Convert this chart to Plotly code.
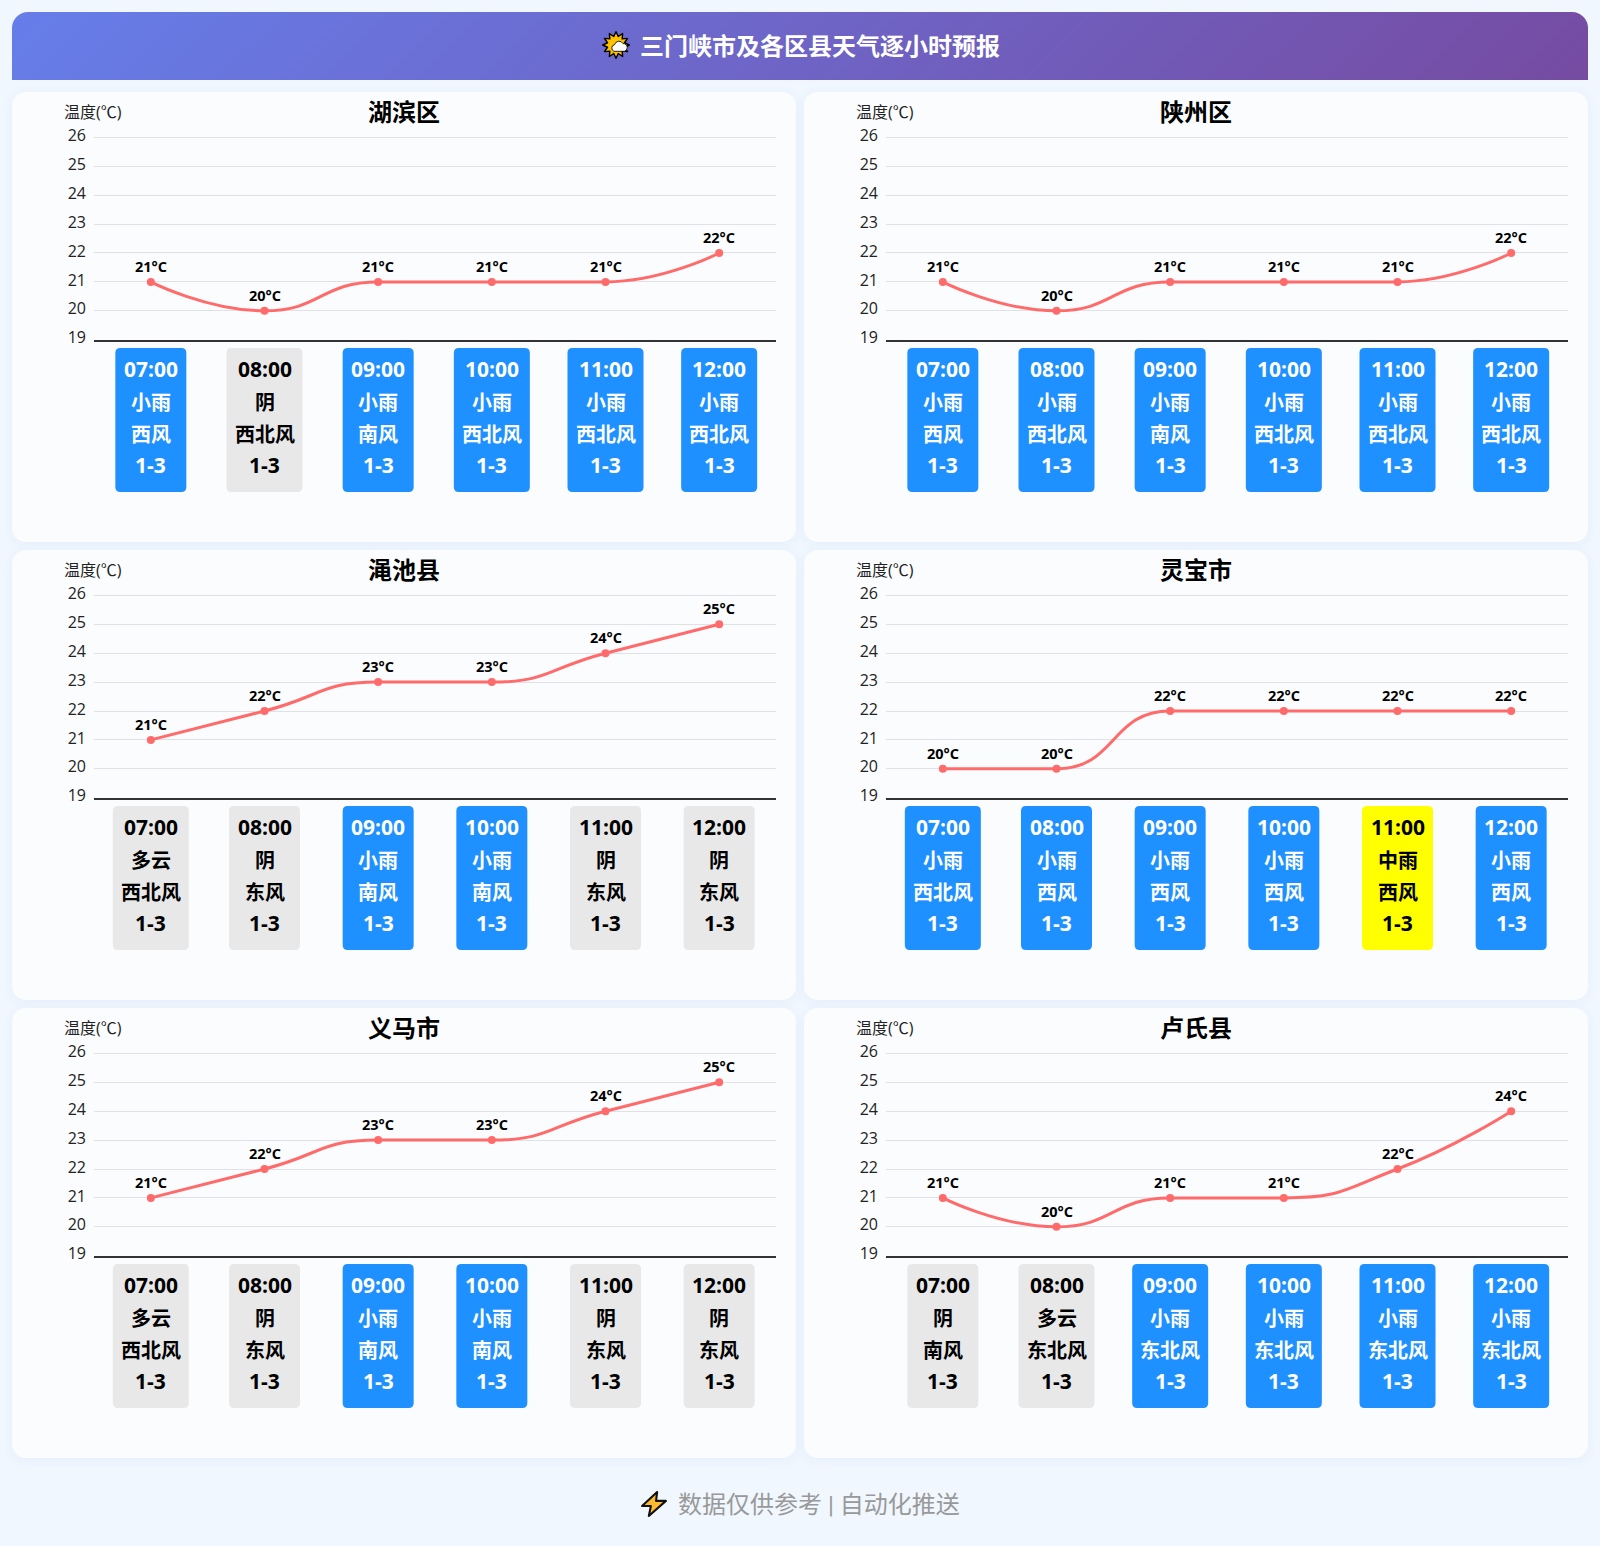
import base64, math
import plotly.graph_objects as go

W, H = 1600, 1546
FONT = "Open Sans, Noto Sans CJK SC, sans-serif"
FOOT = "Roboto, Noto Sans CJK SC, sans-serif"

hours = ["07:00", "08:00", "09:00", "10:00", "11:00", "12:00"]
city_names = ["湖滨区", "陕州区", "渑池县", "灵宝市", "义马市", "卢氏县"]

temps_hubin = [21, 20, 21, 21, 21, 22]
temps_shanzhou = [21, 20, 21, 21, 21, 22]
temps_mianchi = [21, 22, 23, 23, 24, 25]
temps_lingbao = [20, 20, 22, 22, 22, 22]
temps_yima = [21, 22, 23, 23, 24, 25]
temps_lushi = [21, 20, 21, 21, 22, 24]

sky_hubin = ["小雨", "阴", "小雨", "小雨", "小雨", "小雨"]
sky_shanzhou = ["小雨", "小雨", "小雨", "小雨", "小雨", "小雨"]
sky_mianchi = ["多云", "阴", "小雨", "小雨", "阴", "阴"]
sky_lingbao = ["小雨", "小雨", "小雨", "小雨", "中雨", "小雨"]
sky_yima = ["多云", "阴", "小雨", "小雨", "阴", "阴"]
sky_lushi = ["阴", "多云", "小雨", "小雨", "小雨", "小雨"]

wind_hubin = ["西风", "西北风", "南风", "西北风", "西北风", "西北风"]
wind_shanzhou = ["西风", "西北风", "南风", "西北风", "西北风", "西北风"]
wind_mianchi = ["西北风", "东风", "南风", "南风", "东风", "东风"]
wind_lingbao = ["西北风", "西风", "西风", "西风", "西风", "西风"]
wind_yima = ["西北风", "东风", "南风", "南风", "东风", "东风"]
wind_lushi = ["南风", "东北风", "东北风", "东北风", "东北风", "东北风"]

wind_force = "1-3"
y_ticks = [19, 20, 21, 22, 23, 24, 25, 26]

all_temps = [temps_hubin, temps_shanzhou, temps_mianchi, temps_lingbao, temps_yima, temps_lushi]
all_sky = [sky_hubin, sky_shanzhou, sky_mianchi, sky_lingbao, sky_yima, sky_lushi]
all_wind = [wind_hubin, wind_shanzhou, wind_mianchi, wind_lingbao, wind_yima, wind_lushi]

CARD_STYLE = {"小雨": ("#1e90ff", "#ffffff"), "中雨": ("#ffff00", "#000000"),
              "阴": ("#e8e8e8", "#000000"), "多云": ("#e8e8e8", "#000000")}

PLOT_L, PLOT_W = 94, 682
PLOT_B, UNIT = 339.7, 28.9
Y_TOP = 26.05


def uri(svg):
    return "data:image/svg+xml;base64," + base64.b64encode(svg.encode("utf-8")).decode()


panels = ""
for r in range(3):
    for c in range(2):
        panels += f'<rect x="{12+792*c}" y="{92+458*r}" width="784" height="450" rx="14" fill="#fbfcfe" filter="url(#s)"/>'
bg = f'''<svg xmlns="http://www.w3.org/2000/svg" width="{W}" height="{H}" viewBox="0 0 {W} {H}">
<defs>
<linearGradient id="g" gradientUnits="userSpaceOnUse" x1="{800-411}" y1="{46-411}" x2="{800+411}" y2="{46+411}">
<stop offset="0" stop-color="#667eea"/><stop offset="1" stop-color="#764ba2"/></linearGradient>
<filter id="s" x="-5%" y="-5%" width="110%" height="110%"><feDropShadow dx="0" dy="2" stdDeviation="4" flood-color="#5078b4" flood-opacity="0.08"/></filter>
</defs>
<rect width="{W}" height="{H}" fill="#f0f7ff"/>
<path d="M12 80 V28 a16 16 0 0 1 16 -16 H1572 a16 16 0 0 1 16 16 V80 Z" fill="url(#g)"/>
{panels}
</svg>'''

rays = " ".join(
    f"{20+(19 if i % 2 == 0 else 12.5)*math.cos(i*math.pi/12):.1f},{20+(19 if i % 2 == 0 else 12.5)*math.sin(i*math.pi/12):.1f}"
    for i in range(24))
sun = f'''<svg xmlns="http://www.w3.org/2000/svg" width="80" height="80" viewBox="0 0 40 40">
<defs><radialGradient id="r"><stop offset="0.45" stop-color="#ffc400"/><stop offset="1" stop-color="#ffb000"/></radialGradient></defs>
<polygon points="{rays}" fill="url(#r)" stroke="#000" stroke-width="2" stroke-linejoin="round"/>
<path d="M17 29 a5 5 0 0 1 1 -9.5 a6.5 6.5 0 0 1 12 -1.5 a5.5 5.5 0 0 1 6 5.5 a5.5 5.5 0 0 1 -4 5.5 Z" fill="#fff" stroke="#000" stroke-width="1.2"/>
</svg>'''
bolt = '''<svg xmlns="http://www.w3.org/2000/svg" width="80" height="80" viewBox="0 0 26 26">
<polygon points="16,1.5 1.5,15 10,15 8,24.5 24.5,10 15,10" fill="#ffb92e" stroke="#111" stroke-width="2" stroke-linejoin="round"/>
</svg>'''

fig = go.Figure()
annotations, shapes = [], []


def px(x):
    return x / W


def py(y):
    return 1 - y / H


def paper_text(text, x, y, size, color="#000000", bold=False, xanchor="center", family=FONT):
    annotations.append(dict(text=f"<b>{text}</b>" if bold else text, x=px(x), y=py(y), xref="paper", yref="paper",
                            xanchor=xanchor, yanchor="middle", showarrow=False,
                            font=dict(family=family, size=size, color=color)))


def card_path(cx, half, top, bottom, rad):
    l, rt, t, b = cx - half, cx + half, top, bottom
    pts = [("M", (l + rad, t)), ("L", (rt - rad, t)), ("Q", (rt, t, rt, t + rad)), ("L", (rt, b - rad)),
           ("Q", (rt, b, rt - rad, b)), ("L", (l + rad, b)), ("Q", (l, b, l, b - rad)), ("L", (l, t + rad)),
           ("Q", (l, t, l + rad, t))]
    out = []
    for cmd, v in pts:
        vals = [f"{px(v[k]):.6f} {py(v[k+1]):.6f}" for k in range(0, len(v), 2)]
        out.append(cmd + " " + " ".join(vals))
    return " ".join(out) + " Z"


def smooth_path(xs, ys):
    """Cubic path through the data in axis units, with the constrained smoothing of the reference's line."""
    sx, sy = PLOT_W / len(xs), UNIT
    P = [(x * sx, y * sy) for x, y in zip(xs, ys)]
    n, s = len(P), 0.5
    clamp = lambda v, a, b: max(min(v, max(a, b)), min(a, b))
    cp_next = P[0]
    d = f"M {xs[0]} {ys[0]}"
    for i in range(1, n):
        x, y = P[i]
        px_, py_ = P[i - 1]
        nx, ny = P[i + 1] if i + 1 < n else P[i]
        if i + 1 < n:
            vx, vy = nx - px_, ny - py_
            l0 = math.hypot(x - px_, y - py_)
            l1 = math.hypot(nx - x, ny - y)
            ratio = l1 / (l0 + l1)
            ncx = clamp(x + vx * s * ratio, nx, x)
            ncy = clamp(y + vy * s * ratio, ny, y)
            vx, vy = ncx - x, ncy - y
            c1x = clamp(x - vx * l0 / l1, px_, x)
            c1y = clamp(y - vy * l0 / l1, py_, y)
            vx, vy = x - c1x, y - c1y
            ncx, ncy = x + vx * l1 / l0, y + vy * l1 / l0
        else:
            c1x, c1y, ncx, ncy = x, y, x, y
        d += (f" C {cp_next[0]/sx:.4f} {cp_next[1]/sy:.4f} {c1x/sx:.4f} {c1y/sy:.4f} {xs[i]} {ys[i]}")
        cp_next = (ncx, ncy)
    return d


layout_axes = {}
positions = list(range(len(hours)))
for i, name in enumerate(city_names):
    r, c = i // 2, i % 2
    ox, oy = 792 * c, 458 * r
    n = i + 1
    sfx = "" if n == 1 else str(n)
    xa, ya = f"x{sfx}", f"y{sfx}"
    fig.add_trace(go.Scatter(
        x=positions, y=all_temps[i], xaxis=xa, yaxis=ya, mode="markers",
        marker=dict(color="#ff6b6b", size=8), showlegend=False, cliponaxis=False, hoverinfo="skip"))
    shapes.append(dict(type="path", xref=xa, yref=ya, path=smooth_path(positions, all_temps[i]),
                       line=dict(color="#ff6b6b", width=3), layer="between"))
    layout_axes[f"xaxis{sfx}"] = dict(
        domain=[px(PLOT_L + ox), px(PLOT_L + PLOT_W + ox)], anchor=ya, range=[-0.5, 5.5],
        tickvals=positions, ticktext=hours, showgrid=False, showticklabels=False, ticks="",
        showline=True, linecolor="#333333", linewidth=2, zeroline=False, fixedrange=True)
    layout_axes[f"yaxis{sfx}"] = dict(
        domain=[py(PLOT_B + oy), py(PLOT_B + oy - (Y_TOP - 19) * UNIT)], anchor=xa, range=[19, Y_TOP],
        tickvals=y_ticks, showgrid=True, gridcolor="#e0e0e6", gridwidth=1, ticks="", showline=False,
        zeroline=False, ticklabelstandoff=7, ticklabelshift=-2,
        tickfont=dict(family=FONT, size=16, color="#222222"), fixedrange=True)
    paper_text(name, 404 + ox, 111.5 + oy, 24, bold=True)
    paper_text("温度(℃)", 62 + ox, 112 + oy, 16, color="#222222", xanchor="left")
    for j, t in enumerate(all_temps[i]):
        annotations.append(dict(text=f"<b>{t}°C</b>", x=j, y=t, xref=xa, yref=ya, yshift=15.5, xanchor="center",
                                yanchor="middle", showarrow=False,
                                font=dict(family=FONT, size=14.5, color="#000000")))
    for j, (h, sky, wind) in enumerate(zip(hours, all_sky[i], all_wind[i])):
        fill, ink = CARD_STYLE[sky]
        half = (max(55, 20 * len(wind)) + 16) / 2
        cx = PLOT_L + ox + (j + 0.5) * PLOT_W / len(hours)
        shapes.append(dict(type="path", xref="paper", yref="paper",
                           path=card_path(cx, half, PLOT_B + oy + 8.3, PLOT_B + oy + 152.3, 5),
                           fillcolor=fill, line=dict(width=0), layer="between"))
        lines = [(h, 29, 21), (sky, 63, 20), (wind, 95, 20), (wind_force, 125, 21)]
        for text, off, size in lines:
            annotations.append(dict(text=f"<b>{text}</b>", x=j, y=19, xref=xa, yref=ya, yshift=-off,
                                    xanchor="center", yanchor="middle", showarrow=False,
                                    font=dict(family=FONT, size=size, color=ink)))

paper_text("三门峡市及各区县天气逐小时预报", 820, 45.5, 24, color="#ffffff", bold=True)
paper_text("数据仅供参考 | 自动化推送", 819, 1505, 24, color="#999999", family=FOOT)

images = [
    dict(source=uri(bg), xref="paper", yref="paper", x=0, y=1, sizex=1, sizey=1, sizing="stretch",
         xanchor="left", yanchor="top", layer="below"),
    dict(source=uri(sun), xref="paper", yref="paper", x=px(616), y=py(45), sizex=px(28), sizey=28 / H,
         sizing="contain", xanchor="center", yanchor="middle", layer="above"),
    dict(source=uri(bolt), xref="paper", yref="paper", x=px(654), y=py(1504), sizex=px(27), sizey=27 / H,
         sizing="contain", xanchor="center", yanchor="middle", layer="above"),
]

fig.update_layout(width=W, height=H, margin=dict(l=0, r=0, t=0, b=0, pad=0, autoexpand=False),
                  paper_bgcolor="#f0f7ff", plot_bgcolor="rgba(0,0,0,0)", showlegend=False,
                  annotations=annotations, shapes=shapes, images=images, font=dict(family=FONT), **layout_axes)
fig.write_html("out.html", config=dict(displayModeBar=False),
               post_script="document.body.style.margin='0';document.body.style.overflow='hidden';")
